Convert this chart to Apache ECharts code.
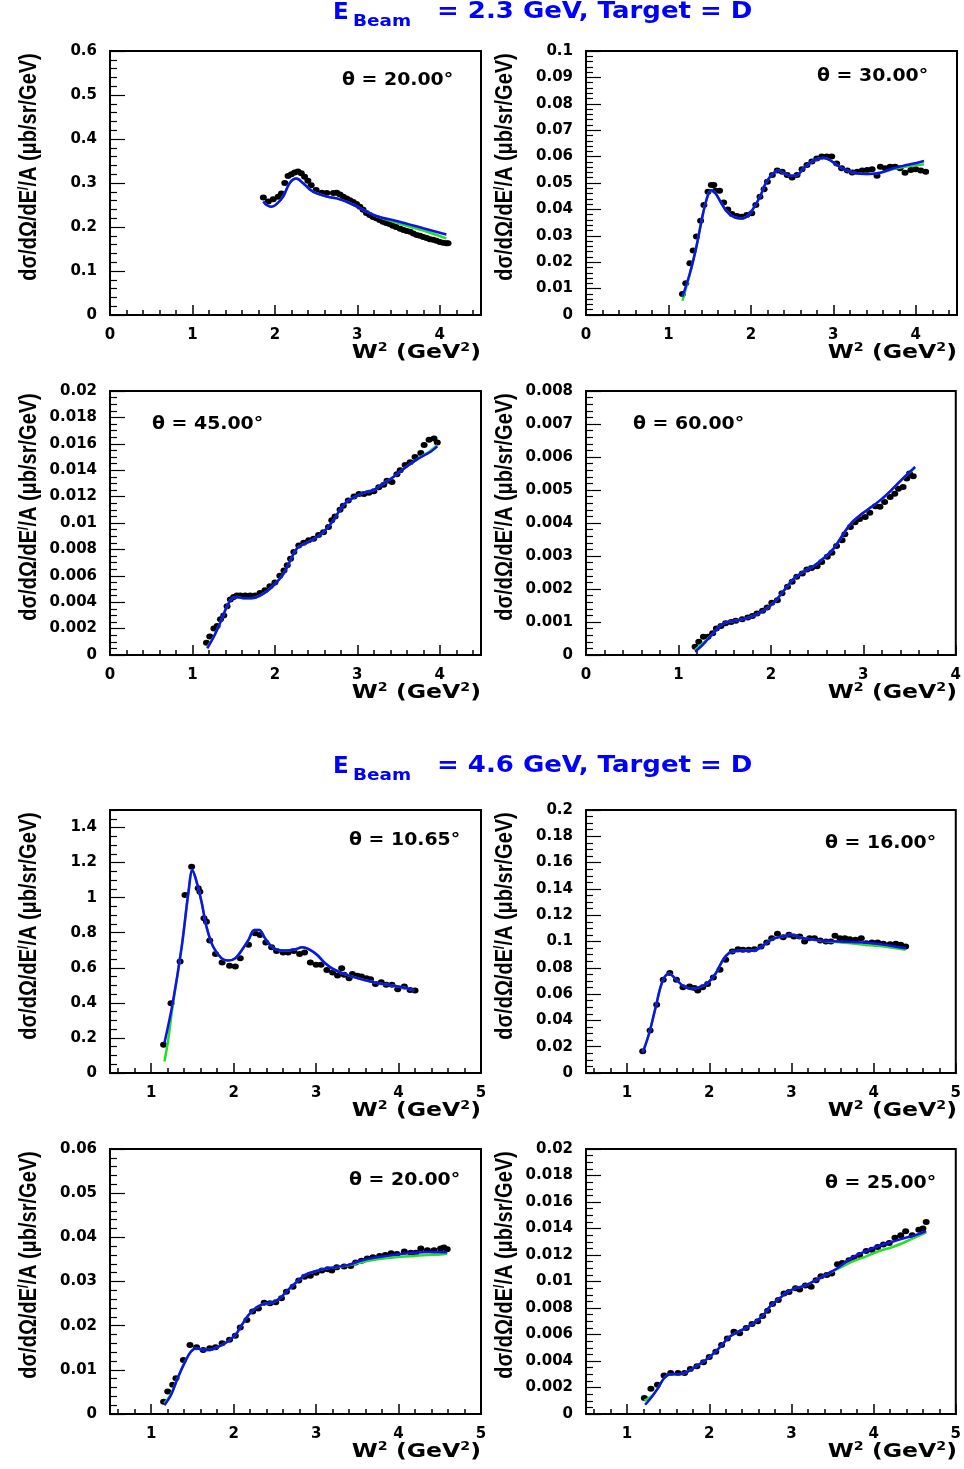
<!DOCTYPE html>
<html><head><meta charset="utf-8">
<script src="https://cdn.jsdelivr.net/npm/echarts@6/dist/echarts.min.js"></script>
<style>html,body{margin:0;padding:0;background:#fff}#c{width:964px;height:1469px}</style>
</head><body><div id="c"></div>
<script>
// ---------------- DATA ----------------
// E = 2.3 GeV, theta = 20
const d23_20 = [[1.86,0.267],[1.92,0.258],[1.98,0.263],[2.04,0.269],[2.08,0.276],[2.12,0.300],[2.16,0.316],[2.20,0.320],[2.24,0.324],[2.28,0.326],[2.32,0.322],[2.36,0.314],[2.40,0.305],[2.44,0.295],[2.50,0.284],[2.57,0.278],[2.63,0.277],[2.71,0.277],[2.75,0.278],[2.79,0.274],[2.83,0.269],[2.87,0.265],[2.91,0.261],[2.95,0.257],[2.99,0.252],[3.03,0.246],[3.07,0.239],[3.11,0.232],[3.15,0.227],[3.19,0.223],[3.23,0.220],[3.27,0.216],[3.31,0.212],[3.35,0.209],[3.39,0.207],[3.43,0.203],[3.47,0.200],[3.52,0.196],[3.56,0.193],[3.60,0.191],[3.64,0.189],[3.68,0.185],[3.72,0.182],[3.76,0.180],[3.80,0.177],[3.84,0.175],[3.88,0.172],[3.92,0.171],[3.96,0.169],[4.00,0.166],[4.04,0.164],[4.08,0.163],[4.10,0.163]];
const b23_20 = [[1.86,0.258],[1.90,0.250],[1.96,0.246],[2.02,0.252],[2.10,0.269],[2.18,0.300],[2.26,0.310],[2.34,0.300],[2.42,0.286],[2.50,0.277],[2.63,0.269],[2.75,0.265],[2.91,0.254],[3.07,0.239],[3.23,0.225],[3.51,0.212],[3.80,0.197],[4.08,0.183]];
const g23_20 = [[1.86,0.258],[1.90,0.250],[1.96,0.246],[2.02,0.252],[2.10,0.269],[2.18,0.300],[2.26,0.310],[2.34,0.300],[2.42,0.286],[2.50,0.277],[2.63,0.269],[2.75,0.265],[2.91,0.254],[3.07,0.239],[3.23,0.225],[3.51,0.208],[3.80,0.192],[4.08,0.174]];
// E = 2.3 GeV, theta = 30
const d23_30 = [[1.17,0.0080],[1.21,0.0120],[1.26,0.0196],[1.30,0.0244],[1.34,0.0297],[1.39,0.0357],[1.43,0.0417],[1.48,0.0467],[1.52,0.0492],[1.55,0.0492],[1.57,0.0471],[1.62,0.0471],[1.67,0.0426],[1.72,0.0400],[1.77,0.0383],[1.83,0.0375],[1.89,0.0372],[1.95,0.0379],[2.01,0.0385],[2.06,0.0417],[2.11,0.0448],[2.16,0.0476],[2.20,0.0505],[2.26,0.0530],[2.32,0.0547],[2.38,0.0543],[2.44,0.0530],[2.50,0.0521],[2.56,0.0530],[2.62,0.0552],[2.68,0.0568],[2.74,0.0581],[2.80,0.0593],[2.86,0.0600],[2.92,0.0600],[2.98,0.0600],[3.04,0.0574],[3.10,0.0556],[3.17,0.0547],[3.23,0.0540],[3.29,0.0543],[3.35,0.0547],[3.41,0.0549],[3.47,0.0552],[3.53,0.0527],[3.57,0.0562],[3.63,0.0556],[3.69,0.0562],[3.75,0.0562],[3.81,0.0556],[3.87,0.0539],[3.94,0.0549],[4.00,0.0552],[4.06,0.0547],[4.12,0.0543]];
const b23_30 = [[1.17,0.0070],[1.26,0.0158],[1.34,0.0260],[1.42,0.0385],[1.48,0.0455],[1.52,0.0473],[1.57,0.0461],[1.63,0.0430],[1.71,0.0391],[1.79,0.0372],[1.87,0.0366],[1.95,0.0372],[2.03,0.0404],[2.11,0.0448],[2.19,0.0505],[2.28,0.0539],[2.34,0.0547],[2.40,0.0537],[2.48,0.0527],[2.56,0.0530],[2.64,0.0556],[2.72,0.0577],[2.80,0.0590],[2.88,0.0595],[2.96,0.0587],[3.04,0.0568],[3.13,0.0552],[3.25,0.0539],[3.41,0.0534],[3.57,0.0539],[3.73,0.0556],[3.89,0.0568],[4.02,0.0577],[4.10,0.0583]];
const g23_30 = [[1.17,0.0054],[1.26,0.0156],[1.34,0.0260],[1.42,0.0385],[1.48,0.0455],[1.52,0.0473],[1.57,0.0461],[1.63,0.0430],[1.71,0.0391],[1.79,0.0372],[1.87,0.0366],[1.95,0.0372],[2.03,0.0404],[2.11,0.0448],[2.19,0.0505],[2.28,0.0539],[2.34,0.0547],[2.40,0.0537],[2.48,0.0527],[2.56,0.0530],[2.64,0.0556],[2.72,0.0577],[2.80,0.0590],[2.88,0.0595],[2.96,0.0587],[3.04,0.0568],[3.13,0.0552],[3.25,0.0539],[3.41,0.0534],[3.57,0.0539],[3.73,0.0553],[3.89,0.0562],[4.02,0.0568],[4.10,0.0571]];
// E = 2.3 GeV, theta = 45
const d23_45 = [[1.17,0.00093],[1.21,0.0014],[1.26,0.0020],[1.30,0.0022],[1.34,0.0027],[1.38,0.0030],[1.42,0.0037],[1.46,0.0042],[1.50,0.0044],[1.54,0.0045],[1.58,0.0045],[1.64,0.0045],[1.70,0.0045],[1.76,0.0045],[1.82,0.0047],[1.88,0.0049],[1.94,0.0052],[2.00,0.0055],[2.06,0.0060],[2.11,0.0064],[2.15,0.0068],[2.19,0.0073],[2.23,0.0078],[2.29,0.0083],[2.35,0.0085],[2.41,0.0087],[2.47,0.0088],[2.53,0.0091],[2.59,0.0093],[2.65,0.0097],[2.69,0.0102],[2.73,0.0105],[2.79,0.0110],[2.83,0.0113],[2.89,0.0117],[2.96,0.0120],[3.02,0.0122],[3.08,0.0122],[3.14,0.0123],[3.20,0.0124],[3.26,0.0127],[3.32,0.0129],[3.36,0.0132],[3.42,0.0131],[3.48,0.0137],[3.52,0.0140],[3.58,0.0144],[3.64,0.0146],[3.70,0.0150],[3.77,0.0153],[3.81,0.0159],[3.87,0.0163],[3.93,0.0164],[3.97,0.0161]];
const b23_45 = [[1.18,0.0005],[1.26,0.0014],[1.34,0.0025],[1.42,0.0037],[1.48,0.0043],[1.54,0.0044],[1.62,0.0043],[1.72,0.0043],[1.82,0.0045],[1.92,0.0049],[2.02,0.0055],[2.11,0.0062],[2.19,0.0072],[2.27,0.0081],[2.35,0.0084],[2.45,0.0087],[2.55,0.0091],[2.63,0.0096],[2.71,0.0102],[2.79,0.0110],[2.87,0.0116],[2.98,0.0120],[3.08,0.0123],[3.20,0.0125],[3.32,0.0130],[3.44,0.0135],[3.56,0.0141],[3.72,0.0148],[3.89,0.0154],[3.97,0.0158]];
const g23_45 = [[1.18,0.0006],[1.26,0.0014],[1.34,0.0025],[1.42,0.0037],[1.48,0.0043],[1.54,0.0044],[1.62,0.0043],[1.72,0.0043],[1.82,0.0045],[1.92,0.0049],[2.02,0.0055],[2.11,0.0062],[2.19,0.0072],[2.27,0.0081],[2.35,0.0084],[2.45,0.0087],[2.55,0.0091],[2.63,0.0096],[2.71,0.0102],[2.79,0.0110],[2.87,0.0116],[2.98,0.0120],[3.08,0.0123],[3.20,0.0125],[3.32,0.0130],[3.44,0.0135],[3.56,0.0141],[3.72,0.0148],[3.89,0.0155],[3.97,0.0159]];
// E = 2.3 GeV, theta = 60
const d23_60 = [[1.18,0.00025],[1.22,0.00040],[1.27,0.00055],[1.32,0.00055],[1.37,0.00066],[1.41,0.00080],[1.46,0.00088],[1.51,0.00096],[1.57,0.00100],[1.62,0.00104],[1.69,0.00108],[1.75,0.00114],[1.80,0.00118],[1.85,0.00126],[1.91,0.00134],[1.96,0.00144],[2.01,0.00158],[2.07,0.00166],[2.12,0.00187],[2.18,0.00207],[2.23,0.00222],[2.28,0.00237],[2.34,0.00247],[2.39,0.00259],[2.44,0.00264],[2.50,0.00269],[2.55,0.00282],[2.61,0.00298],[2.66,0.00310],[2.71,0.00330],[2.77,0.00348],[2.80,0.00366],[2.86,0.00388],[2.91,0.00402],[2.96,0.00412],[3.02,0.00418],[3.07,0.00431],[3.13,0.00451],[3.18,0.00449],[3.23,0.00464],[3.29,0.00479],[3.34,0.00489],[3.38,0.00504],[3.43,0.00509],[3.47,0.00535],[3.50,0.00550],[3.54,0.00542]];
const b23_60 = [[1.18,0.00010],[1.26,0.00030],[1.37,0.00064],[1.46,0.00091],[1.53,0.00100],[1.62,0.00104],[1.73,0.00111],[1.83,0.00121],[1.94,0.00138],[2.04,0.00161],[2.16,0.00202],[2.25,0.00232],[2.35,0.00252],[2.46,0.00269],[2.57,0.00293],[2.68,0.00323],[2.78,0.00365],[2.87,0.00400],[2.98,0.00427],[3.09,0.00449],[3.20,0.00473],[3.30,0.00499],[3.41,0.00530],[3.56,0.00570]];
const g23_60 = [[1.18,0.00015],[1.26,0.00034],[1.37,0.00064],[1.46,0.00091],[1.53,0.00100],[1.62,0.00104],[1.73,0.00111],[1.83,0.00121],[1.94,0.00138],[2.04,0.00161],[2.16,0.00202],[2.25,0.00232],[2.35,0.00252],[2.46,0.00269],[2.57,0.00293],[2.68,0.00323],[2.78,0.00365],[2.87,0.00400],[2.98,0.00427],[3.09,0.00449],[3.20,0.00473],[3.30,0.00499],[3.41,0.00530],[3.56,0.00568]];
// E = 4.6 GeV, theta = 10.65
const d46_1065 = [[1.15,0.161],[1.24,0.398],[1.35,0.636],[1.41,1.015],[1.49,1.176],[1.57,1.053],[1.59,1.034],[1.64,0.882],[1.67,0.863],[1.71,0.755],[1.78,0.679],[1.86,0.630],[1.95,0.611],[2.02,0.607],[2.08,0.655],[2.18,0.731],[2.26,0.797],[2.32,0.787],[2.39,0.744],[2.46,0.717],[2.52,0.696],[2.60,0.687],[2.66,0.687],[2.73,0.696],[2.80,0.679],[2.86,0.687],[2.93,0.630],[3.00,0.617],[3.06,0.617],[3.13,0.588],[3.20,0.573],[3.26,0.556],[3.31,0.598],[3.34,0.560],[3.40,0.541],[3.44,0.565],[3.50,0.554],[3.55,0.550],[3.61,0.541],[3.66,0.535],[3.72,0.508],[3.79,0.518],[3.85,0.503],[3.92,0.503],[3.99,0.478],[4.07,0.493],[4.14,0.474],[4.20,0.471]];
const b46_1065 = [[1.16,0.171],[1.26,0.398],[1.37,0.721],[1.45,1.025],[1.50,1.158],[1.55,1.091],[1.61,0.977],[1.67,0.835],[1.75,0.721],[1.85,0.655],[1.93,0.641],[2.02,0.655],[2.10,0.702],[2.18,0.759],[2.25,0.816],[2.31,0.816],[2.38,0.768],[2.46,0.721],[2.54,0.702],[2.64,0.698],[2.75,0.706],[2.83,0.717],[2.91,0.706],[3.01,0.674],[3.11,0.626],[3.21,0.592],[3.34,0.565],[3.50,0.541],[3.66,0.522],[3.82,0.507],[4.03,0.490],[4.19,0.471]];
const g46_1065 = [[1.16,0.066],[1.20,0.171],[1.26,0.380],[1.37,0.721],[1.45,1.025],[1.50,1.158],[1.55,1.091],[1.61,0.977],[1.67,0.835],[1.75,0.721],[1.85,0.655],[1.93,0.641],[2.02,0.655],[2.10,0.702],[2.18,0.759],[2.25,0.816],[2.31,0.816],[2.38,0.768],[2.46,0.721],[2.54,0.702],[2.64,0.698],[2.75,0.706],[2.83,0.717],[2.91,0.706],[3.01,0.674],[3.11,0.626],[3.21,0.592],[3.34,0.565],[3.50,0.541],[3.66,0.522],[3.82,0.507],[4.03,0.490],[4.19,0.471]];
// E = 4.6 GeV, theta = 16
const d46_16 = [[1.19,0.0165],[1.28,0.0324],[1.36,0.0519],[1.44,0.0709],[1.52,0.0760],[1.60,0.0709],[1.68,0.0653],[1.76,0.0658],[1.82,0.0646],[1.86,0.0628],[1.92,0.0653],[1.98,0.0676],[2.05,0.0727],[2.13,0.0785],[2.20,0.0861],[2.28,0.0924],[2.35,0.0942],[2.41,0.0937],[2.48,0.0937],[2.55,0.0942],[2.63,0.0962],[2.70,0.0992],[2.76,0.1025],[2.83,0.1058],[2.90,0.1033],[2.97,0.1051],[3.03,0.1038],[3.10,0.1038],[3.16,0.1000],[3.22,0.1025],[3.28,0.1025],[3.35,0.1008],[3.42,0.1000],[3.48,0.1000],[3.53,0.1043],[3.59,0.1025],[3.65,0.1025],[3.71,0.1018],[3.78,0.1013],[3.85,0.1025],[3.91,0.0987],[3.98,0.0992],[4.05,0.0992],[4.12,0.0982],[4.20,0.0980],[4.27,0.0982],[4.33,0.0975],[4.39,0.0962]];
const b46_16 = [[1.19,0.0152],[1.27,0.0304],[1.35,0.0506],[1.43,0.0696],[1.51,0.0754],[1.60,0.0709],[1.68,0.0663],[1.78,0.0638],[1.88,0.0653],[1.98,0.0684],[2.08,0.0759],[2.18,0.0873],[2.28,0.0924],[2.41,0.0929],[2.53,0.0929],[2.65,0.0967],[2.77,0.1018],[2.89,0.1038],[2.99,0.1051],[3.10,0.1033],[3.22,0.1018],[3.38,0.1005],[3.58,0.1000],[3.78,0.0995],[3.99,0.0987],[4.19,0.0970],[4.39,0.0949]];
const g46_16 = [[1.19,0.0160],[1.27,0.0306],[1.35,0.0506],[1.43,0.0696],[1.51,0.0754],[1.60,0.0709],[1.68,0.0663],[1.78,0.0638],[1.88,0.0653],[1.98,0.0684],[2.08,0.0759],[2.18,0.0873],[2.28,0.0924],[2.41,0.0929],[2.53,0.0929],[2.65,0.0967],[2.77,0.1018],[2.89,0.1038],[2.99,0.1051],[3.10,0.1033],[3.22,0.1018],[3.38,0.1003],[3.58,0.0995],[3.78,0.0982],[3.99,0.0970],[4.19,0.0957],[4.39,0.0937]];
// E = 4.6 GeV, theta = 20
const d46_20 = [[1.15,0.0028],[1.20,0.0051],[1.26,0.0066],[1.30,0.0081],[1.39,0.0122],[1.47,0.0156],[1.55,0.0151],[1.63,0.0145],[1.71,0.0149],[1.78,0.0151],[1.86,0.0160],[1.95,0.0168],[2.02,0.0177],[2.08,0.0196],[2.16,0.0213],[2.23,0.0232],[2.30,0.0239],[2.37,0.0252],[2.44,0.0251],[2.51,0.0253],[2.58,0.0262],[2.64,0.0277],[2.72,0.0288],[2.79,0.0302],[2.86,0.0311],[2.93,0.0313],[3.00,0.0320],[3.07,0.0325],[3.14,0.0328],[3.19,0.0325],[3.25,0.0332],[3.34,0.0334],[3.42,0.0335],[3.48,0.0343],[3.55,0.0347],[3.62,0.0352],[3.69,0.0355],[3.77,0.0358],[3.84,0.0360],[3.91,0.0364],[3.98,0.0362],[4.07,0.0368],[4.15,0.0365],[4.21,0.0365],[4.27,0.0375],[4.35,0.0371],[4.43,0.0371],[4.51,0.0375],[4.55,0.0377],[4.59,0.0373]];
const b46_20 = [[1.16,0.0020],[1.24,0.0043],[1.32,0.0081],[1.41,0.0118],[1.48,0.0141],[1.55,0.0149],[1.63,0.0145],[1.71,0.0145],[1.81,0.0152],[1.91,0.0162],[2.02,0.0179],[2.10,0.0202],[2.18,0.0224],[2.26,0.0239],[2.36,0.0249],[2.46,0.0252],[2.56,0.0262],[2.66,0.0281],[2.77,0.0300],[2.87,0.0315],[2.97,0.0322],[3.09,0.0328],[3.21,0.0332],[3.38,0.0337],[3.54,0.0347],[3.70,0.0354],[3.86,0.0358],[4.03,0.0362],[4.19,0.0365],[4.35,0.0367],[4.51,0.0366],[4.59,0.0366]];
const g46_20 = [[1.16,0.0024],[1.24,0.0045],[1.32,0.0081],[1.41,0.0118],[1.48,0.0141],[1.55,0.0149],[1.63,0.0145],[1.71,0.0145],[1.81,0.0152],[1.91,0.0162],[2.02,0.0179],[2.10,0.0202],[2.18,0.0224],[2.26,0.0239],[2.36,0.0249],[2.46,0.0252],[2.56,0.0262],[2.66,0.0281],[2.77,0.0300],[2.87,0.0315],[2.97,0.0322],[3.09,0.0328],[3.21,0.0332],[3.38,0.0336],[3.54,0.0343],[3.70,0.0349],[3.86,0.0353],[4.03,0.0356],[4.19,0.0358],[4.35,0.0360],[4.51,0.0361],[4.59,0.0364]];
// E = 4.6 GeV, theta = 25
const d46_25 = [[1.21,0.0012],[1.29,0.0019],[1.37,0.0022],[1.45,0.0029],[1.53,0.0031],[1.62,0.0031],[1.70,0.0031],[1.77,0.0034],[1.85,0.0036],[1.93,0.0039],[2.00,0.0043],[2.08,0.0047],[2.15,0.0052],[2.22,0.0057],[2.30,0.0062],[2.37,0.0061],[2.45,0.0065],[2.52,0.0068],[2.59,0.0070],[2.65,0.0074],[2.71,0.0078],[2.77,0.0083],[2.84,0.0086],[2.91,0.0091],[2.97,0.0092],[3.05,0.0095],[3.10,0.0094],[3.17,0.0097],[3.24,0.0096],[3.30,0.0101],[3.36,0.0104],[3.43,0.0105],[3.49,0.0106],[3.56,0.0113],[3.62,0.0114],[3.70,0.0116],[3.76,0.0118],[3.83,0.0120],[3.91,0.0123],[3.98,0.0124],[4.05,0.0126],[4.12,0.0128],[4.19,0.0129],[4.26,0.0133],[4.33,0.0135],[4.39,0.0138],[4.47,0.0135],[4.55,0.0139],[4.60,0.0140],[4.64,0.0145]];
const b46_25 = [[1.22,0.0007],[1.29,0.0012],[1.37,0.0019],[1.45,0.0027],[1.53,0.0030],[1.64,0.0030],[1.74,0.0032],[1.84,0.0036],[1.94,0.0040],[2.04,0.0045],[2.14,0.0051],[2.24,0.0058],[2.35,0.0062],[2.45,0.0065],[2.55,0.0069],[2.65,0.0074],[2.75,0.0082],[2.85,0.0087],[2.95,0.0092],[3.05,0.0095],[3.17,0.0097],[3.30,0.0101],[3.42,0.0105],[3.58,0.0111],[3.74,0.0118],[3.91,0.0123],[4.07,0.0127],[4.23,0.0130],[4.39,0.0133],[4.51,0.0135],[4.64,0.0138]];
const g46_25 = [[1.21,0.0010],[1.29,0.0013],[1.37,0.0019],[1.45,0.0027],[1.53,0.0030],[1.64,0.0030],[1.74,0.0032],[1.84,0.0036],[1.94,0.0040],[2.04,0.0045],[2.14,0.0051],[2.24,0.0058],[2.35,0.0062],[2.45,0.0065],[2.55,0.0069],[2.65,0.0074],[2.75,0.0082],[2.85,0.0087],[2.95,0.0092],[3.05,0.0095],[3.17,0.0097],[3.30,0.0101],[3.42,0.0105],[3.58,0.0110],[3.74,0.0115],[3.91,0.0119],[4.07,0.0123],[4.23,0.0126],[4.39,0.0130],[4.64,0.0137]];

// tick labels
const xTicksA = [0,1,2,3,4];
const xTicksB = [1,2,3,4,5];
const yT_06 = [0,0.1,0.2,0.3,0.4,0.5,0.6];
const yT_01 = [0,0.01,0.02,0.03,0.04,0.05,0.06,0.07,0.08,0.09,0.1];
const yT_002 = [0,0.002,0.004,0.006,0.008,0.01,0.012,0.014,0.016,0.018,0.02];
const yT_0008 = [0,0.001,0.002,0.003,0.004,0.005,0.006,0.007,0.008];
const yT_15 = [0,0.2,0.4,0.6,0.8,1,1.2,1.4];
const yT_02 = [0,0.02,0.04,0.06,0.08,0.1,0.12,0.14,0.16,0.18,0.2];
const yT_006 = [0,0.01,0.02,0.03,0.04,0.05,0.06];

const titleTop = '= 2.3 GeV, Target = D';
const titleBottom = '= 4.6 GeV, Target = D';
const thetas = ['θ = 20.00°','θ = 30.00°','θ = 45.00°','θ = 60.00°','θ = 10.65°','θ = 16.00°','θ = 20.00°','θ = 25.00°'];
const yTitle = 'dσ/dΩ/dE';
const yTitle2 = '/A (μb/sr/GeV)';

// ---------------- LAYOUT ----------------
const panels = [
  {g:[110,51,371,264], xr:[0,4.5], xl:xTicksA, ym:0.6, yl:yT_06, ys:0.02, d:d23_20, b:b23_20, gr:g23_20, th:[342,80]},
  {g:[586,51,371,264], xr:[0,4.5], xl:xTicksA, ym:0.1, yl:yT_01, ys:0.002, d:d23_30, b:b23_30, gr:g23_30, th:[817,76]},
  {g:[110,391,371,264], xr:[0,4.5], xl:xTicksA, ym:0.02, yl:yT_002, ys:0.0005, d:d23_45, b:b23_45, gr:g23_45, th:[152,424]},
  {g:[586,391,371,264], xr:[0,4], xl:xTicksA, ym:0.008, yl:yT_0008, ys:0.0002, d:d23_60, b:b23_60, gr:g23_60, th:[633,424]},
  {g:[110,810,371,263], xr:[0.5,5], xl:xTicksB, ym:1.5, yl:yT_15, ys:0.05, d:d46_1065, b:b46_1065, gr:g46_1065, th:[349,840]},
  {g:[586,810,371,263], xr:[0.5,5], xl:xTicksB, ym:0.2, yl:yT_02, ys:0.005, d:d46_16, b:b46_16, gr:g46_16, th:[825,843]},
  {g:[110,1149,371,265], xr:[0.5,5], xl:xTicksB, ym:0.06, yl:yT_006, ys:0.002, d:d46_20, b:b46_20, gr:g46_20, th:[349,1180]},
  {g:[586,1149,371,265], xr:[0.5,5], xl:xTicksB, ym:0.02, yl:yT_002, ys:0.0005, d:d46_25, b:b46_25, gr:g46_25, th:[825,1183]}
];

const FONT = 'DejaVu Sans';
const BLUE = '#1010f0';
const GREEN = '#22e022';
function minorList(a, b, step, majors) {
  const out = [];
  const n = Math.round((b - a) / step);
  for (let i = 0; i <= n; i++) {
    const v = +(a + i * step).toFixed(8);
    if (!majors.some(m => Math.abs(m - v) < step * 0.01)) out.push(v);
  }
  return out;
}
const fmt = v => String(+(+v).toFixed(6));

const grid = [], xAxis = [], yAxis = [], series = [], graphic = [];
panels.forEach((p, i) => {
  grid.push({left:p.g[0], top:p.g[1], width:p.g[2], height:p.g[3], show:true, borderColor:'#000', borderWidth:2, backgroundColor:'rgba(0,0,0,0)', containLabel:false});
  const xMinor = minorList(Math.ceil(p.xr[0]/0.2 - 1e-6)*0.2, p.xr[1], 0.2, p.xl);
  const yMinor = minorList(0, p.ym, p.ys, p.yl);
  xAxis.push({type:'value', gridIndex:i, min:p.xr[0], max:p.xr[1], position:'bottom',
    axisLine:{show:true, onZero:false, lineStyle:{color:'#000', width:2}},
    axisTick:{show:true, inside:true, length:10, customValues:p.xl, lineStyle:{color:'#000', width:1.5}},
    axisLabel:{show:true, customValues:p.xl, margin:13, color:'#000', fontFamily:FONT, fontWeight:'bold', fontSize:15, formatter:fmt},
    splitLine:{show:false}});
  xAxis.push({type:'value', gridIndex:i, min:p.xr[0], max:p.xr[1], position:'bottom',
    axisLine:{show:false}, axisLabel:{show:false}, splitLine:{show:false},
    axisTick:{show:true, inside:true, length:5, customValues:xMinor, lineStyle:{color:'#000', width:1.5}}});
  yAxis.push({type:'value', gridIndex:i, min:0, max:p.ym, position:'left',
    axisLine:{show:true, onZero:false, lineStyle:{color:'#000', width:2}},
    axisTick:{show:true, inside:true, length:15, customValues:p.yl, lineStyle:{color:'#000', width:1.2}},
    axisLabel:{show:true, customValues:p.yl, margin:13, color:'#000', fontFamily:FONT, fontWeight:'bold', fontSize:15, formatter:fmt},
    splitLine:{show:false}});
  yAxis.push({type:'value', gridIndex:i, min:0, max:p.ym, position:'left',
    axisLine:{show:false}, axisLabel:{show:false}, splitLine:{show:false},
    axisTick:{show:true, inside:true, length:7, customValues:yMinor, lineStyle:{color:'#000', width:1.2}}});
  series.push({type:'scatter', xAxisIndex:2*i, yAxisIndex:2*i, data:p.d, symbol:'circle', symbolSize:[7,6], itemStyle:{color:'#000', opacity:1}, emphasis:{disabled:true}, z:2});
  series.push({type:'line', xAxisIndex:2*i, yAxisIndex:2*i, data:p.gr, showSymbol:false, smooth:0.35, lineStyle:{color:GREEN, width:2.5}, z:3});
  series.push({type:'line', xAxisIndex:2*i, yAxisIndex:2*i, data:p.b, showSymbol:false, smooth:0.35, lineStyle:{color:BLUE, width:2.5}, z:4});
  // theta label
  graphic.push({type:'text', x:p.th[0], y:p.th[1], scaleX:1.05, style:{text:thetas[i], x:0, y:0, font:'bold 18px "DejaVu Sans"', fill:'#000', textAlign:'left', textVerticalAlign:'middle'}});
  // y title
  graphic.push({type:'text', x:p.g[0]-80, y:p.g[1]+116, rotation:Math.PI/2, scaleY:1.15,
    style:{text:'{a|' + yTitle + '}{p|/}{a|' + yTitle2 + '}', x:0, y:0, textAlign:'center', textVerticalAlign:'middle',
      rich:{a:{font:'bold 20px "Liberation Sans"', fill:'#000'}, p:{font:'bold 12px "Liberation Sans"', fill:'#000', verticalAlign:'top', padding:[0,0,10,0]}}}});
  // x title
  graphic.push({type:'text', x:p.g[0]+p.g[2], y:p.g[1]+p.g[3]+38, scaleX:1.18,
    style:{text:'{a|W}{s|2}{a| (GeV}{s|2}{a|)}', x:0, y:0, textAlign:'right', textVerticalAlign:'middle',
      rich:{a:{font:'bold 20px "DejaVu Sans"', fill:'#000'}, s:{font:'bold 12px "DejaVu Sans"', fill:'#000', padding:[0,0,10,0]}}}});
});
// main titles
[[titleTop, 0], [titleBottom, 754]].forEach(([t, y0]) => {
  graphic.push({type:'text', x:333, y:y0+13, style:{text:'E', x:0, y:0, font:'bold 23px "DejaVu Sans"', fill:'#0000ff', textAlign:'left', textVerticalAlign:'middle'}});
  graphic.push({type:'text', x:353, y:y0+22, scaleX:1.15, style:{text:'Beam', x:0, y:0, font:'bold 16px "DejaVu Sans"', fill:'#0000ff', textAlign:'left', textVerticalAlign:'middle'}});
  graphic.push({type:'text', x:437, y:y0+12, scaleX:1.13, style:{text:t, x:0, y:0, font:'bold 23px "DejaVu Sans"', fill:'#0000ff', textAlign:'left', textVerticalAlign:'middle'}});
});

const chart = echarts.init(document.getElementById('c'), null, {renderer:'canvas'});
chart.setOption({animation:false, backgroundColor:'#fff', grid, xAxis, yAxis, series, graphic});
</script></body></html>
